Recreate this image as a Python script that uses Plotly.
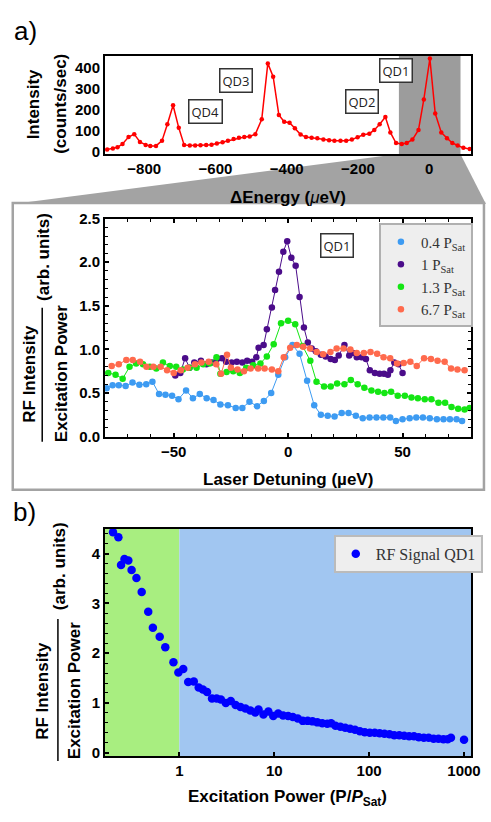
import plotly.graph_objects as go

# ---------------- data ----------------
# panel a (top): PL spectrum
top_x = [-904, -888, -875, -861, -844, -828, -812, -796, -783, -767, -750, -735, -719, -703, -688,
         -672, -657, -642, -626, -611, -596, -580, -565, -549, -534, -519, -504, -488, -470, -453,
         -438, -422, -407, -392, -377, -361, -346, -330, -314, -297, -281, -266, -249, -233, -217,
         -201, -185, -168, -154, -139, -123, -109, -93, -77, -63, -47, -30, -15, 2, 17, 34, 50, 65,
         80, 96, 114]
top_y = [11, 16, 22, 37, 70, 84, 47, 33, 28, 28, 53, 131, 221, 114, 33,
         30, 30, 31, 33, 34, 40, 45, 53, 61, 67, 70, 73, 84, 155, 420,
         357, 175, 143, 138, 112, 82, 70, 67, 64, 59, 55, 53, 53, 53, 58,
         69, 81, 86, 104, 131, 165, 92, 42, 37, 42, 58, 104, 249, 443, 182, 92, 65, 42,
         30, 19, 14]
qd_labels = ["QD4", "QD3", "QD2", "QD1"]
qd_x = [-628, -543, -189, -92]
qd_y = [191, 337, 237, 388]
shade_range = [-85, 88]

# panel a (zoom): RF spectra
p04_x = [-79.3, -76.7, -74, -71, -68, -65, -62, -59.3, -56.4, -53.6, -50.7, -47.9, -44.6, -41.6,
         -38.6, -35.6, -32.6, -29.6, -26.3, -22.9, -20, -16.9, -13.6, -10.6, -7.4, -4.3, -1.3, 1.9,
         5, 8.3, 11.4, 14.3, 17.3, 20.3, 23.4, 26.4, 29.6, 32.6, 35.6, 38.6, 41.6, 44.6, 47.1, 50,
         53.1, 56, 58.9, 61.9, 65, 67.9, 70.7, 73.6, 76]
p04_y = [0.556, 0.59, 0.59, 0.58, 0.62, 0.594, 0.6, 0.63, 0.49, 0.48, 0.47, 0.43, 0.53, 0.44,
         0.49, 0.44, 0.42, 0.37, 0.36, 0.33, 0.33, 0.40, 0.35, 0.41, 0.50, 0.71, 0.91, 1.05,
         0.95, 0.64, 0.36, 0.25, 0.24, 0.23, 0.27, 0.27, 0.24, 0.21, 0.22, 0.22, 0.22, 0.22, 0.18, 0.20,
         0.21, 0.22, 0.22, 0.21, 0.20, 0.20, 0.20, 0.20, 0.18]

p1_x = [-49.3, -47.1, -45, -43.1, -41, -38.1, -35.7, -33.3, -31.1, -28.9, -27.1, -24.7, -22.4, -20,
        -17.9, -15.7, -13.9, -12.9, -10.7, -9.3, -7.1, -5.7, -4, -2.1, -0.4, 1.4, 3.3, 5, 6.9, 8.6,
        10.3, 12.1, 14.3, 16.4, 18.6, 20.4, 22.1, 24.6, 26.7, 28.3, 30, 32.1, 34, 35.7, 37.9, 40,
        41.9, 43.6, 44.7, 46.4, 48.3, 50]
p1_y = [0.70, 0.73, 0.90, 0.79, 0.85, 0.87, 0.83, 0.85, 0.89, 0.90, 0.86, 0.85, 0.86, 0.85,
        0.87, 0.86, 0.91, 1.02, 1.05, 1.23, 1.48, 1.68, 1.89, 2.12, 2.24, 2.05, 1.96, 1.60, 1.25, 1.08,
        1.01, 0.98, 0.94, 0.92, 0.89, 0.88, 0.93, 1.05, 0.93, 0.96, 0.91, 0.91, 0.89, 0.76, 0.73, 0.72,
        0.72, 0.71, 0.76, 0.85, 0.83, 0.73]

p13_x = [-78.6, -75.4, -72.3, -69.3, -66.4, -63.4, -60.4, -57.6, -54.7, -51.7, -48.9, -46, -43.1,
         -40, -37.1, -34.3, -31.3, -29.6, -26.9, -24, -21.1, -18.3, -15.3, -12.1, -9.3, -6.3, -3.1,
         0, 3.1, 6.3, 9.7, 12.4, 15.7, 18.6, 21.4, 24.6, 27.4, 30.4, 33.3, 36.4, 39.3, 42.1, 45,
         47.9, 51, 53.9, 56.7, 59.7, 62.6, 65.7, 68.6, 71.4, 74.3, 77.1, 79.3]
p13_y = [0.73, 0.71, 0.665, 0.80, 0.84, 0.83, 0.80, 0.78, 0.85, 0.81, 0.80, 0.77, 0.79,
         0.79, 0.83, 0.84, 0.91, 0.72, 0.74, 0.75, 0.73, 0.79, 0.82, 0.84, 0.92, 1.06, 1.30,
         1.33, 1.29, 1.04, 0.87, 0.63, 0.575, 0.575, 0.61, 0.60, 0.65, 0.60, 0.56, 0.53, 0.515, 0.50, 0.515,
         0.47, 0.47, 0.45, 0.44, 0.43, 0.43, 0.39, 0.39, 0.34, 0.32, 0.31, 0.33]

p67_x = [-77.1, -74, -70.7, -67.9, -64.7, -61.9, -58.9, -55.7, -52.9, -50, -46.9, -43.9, -40.7,
         -37.9, -34.7, -31.4, -29.3, -26.7, -25, -22.1, -19.3, -16.4, -13.1, -10.3, -7.1, -4.3, -1.9,
         0.9, 3.8, 6.6, 9.6, 12.5, 15.3, 18.5, 21.2, 24.2, 27.2, 30, 33.1, 36, 38.9, 41.7, 44.6, 47.6,
         50.5, 53.4, 56.2, 59.4, 62.4, 65.3, 68.4, 71.2, 74, 77.1]
p67_y = [0.81, 0.83, 0.88, 0.88, 0.86, 0.80, 0.80, 0.80, 0.76, 0.73, 0.76, 0.79, 0.83,
         0.85, 0.86, 0.83, 0.72, 0.94, 0.79, 0.77, 0.75, 0.78, 0.78, 0.78, 0.77, 0.75, 0.91,
         1.02, 1.05, 1.03, 1.01, 0.97, 0.945, 0.97, 1.01, 1.01, 1.0, 0.96, 0.96, 0.97, 0.95, 0.91, 0.90, 0.84,
         0.845, 0.86, 0.81, 0.90, 0.89, 0.87, 0.86, 0.78, 0.77, 0.76]

series_names = ["0.4 P<sub>Sat</sub>", "1 P<sub>Sat</sub>", "1.3 P<sub>Sat</sub>", "6.7 P<sub>Sat</sub>"]
series_colors = ["#3d9bf2", "#4b0c8a", "#14e614", "#ff6a4d"]

# panel b: RF signal vs power
b_x = [0.2, 0.228, 0.243, 0.264, 0.29, 0.314, 0.353, 0.401, 0.47, 0.526, 0.621, 0.711, 0.867, 0.977,
       1.1, 1.24, 1.42, 1.6, 1.77, 1.96, 2.21, 2.47, 2.74, 3.09, 3.48, 3.92, 4.41, 4.97, 5.6, 6.31,
       6.83, 7.7, 8.67, 9.77, 11, 12.4, 14, 15.7, 17.7, 20, 22.5, 25.3, 28.5, 32.1, 36.2, 39.8, 44.2,
       49.8, 56, 63, 71, 80, 90, 101.6, 114.5, 129, 145, 164, 184, 208, 234, 264, 297, 334, 377,
       424, 478, 538, 607, 672, 728, 1000]
b_y = [4.43, 4.33, 3.77, 3.89, 3.86, 3.67, 3.51, 3.23, 2.83, 2.51, 2.33, 2.12, 1.82, 1.61,
       1.68, 1.42, 1.43, 1.31, 1.27, 1.22, 1.09, 1.09, 1.07, 1.0, 1.04, 0.96, 0.92, 0.89, 0.85, 0.81,
       0.87, 0.77, 0.83, 0.74, 0.79, 0.75, 0.74, 0.72, 0.69, 0.64, 0.64, 0.63, 0.61, 0.59, 0.58, 0.59, 0.54,
       0.52, 0.50, 0.48, 0.46, 0.43, 0.41, 0.40, 0.40, 0.39, 0.38, 0.37, 0.35, 0.35, 0.34, 0.33, 0.33, 0.31, 0.30,
       0.30, 0.28, 0.28, 0.27, 0.27, 0.30, 0.26]
b_regions = [0.1, 1.0, 3000]

# ---------------- layout helpers ----------------
W, H = 491, 822
def px(xp):
    return xp / W
def py(yp):
    return 1 - yp / H

SANS = "Liberation Sans"
SERIF = "Liberation Serif"
tickfont = dict(family=SANS, size=15, color="black", weight="bold")

fig = go.Figure()

fig.add_trace(go.Scatter(x=top_x, y=top_y, mode="lines+markers", xaxis="x", yaxis="y",
                         line=dict(color="#ff0000", width=1.5),
                         marker=dict(color="#ff0000", size=4.5), showlegend=False))

for xs, ys, nm, col in zip([p04_x, p1_x, p13_x, p67_x], [p04_y, p1_y, p13_y, p67_y],
                           series_names, series_colors):
    fig.add_trace(go.Scatter(x=xs, y=ys, mode="lines", xaxis="x2", yaxis="y2",
                             line=dict(color=col, width=1), showlegend=False, hoverinfo="skip"))
    fig.add_trace(go.Scatter(x=xs, y=ys, mode="markers", xaxis="x2", yaxis="y2", name=nm,
                             marker=dict(color=col, size=6.5), legend="legend"))

fig.add_trace(go.Scatter(x=b_x, y=b_y, mode="markers", xaxis="x3", yaxis="y3", name="RF Signal QD1",
                         marker=dict(color="#0000ff", size=8.5), legend="legend2"))

xdom = [px(107), px(480)]
frame = dict(showline=True, linecolor="black", linewidth=2, mirror=True, showgrid=False,
             zeroline=False, tickfont=tickfont)

fig.update_layout(
    width=W, height=H, margin=dict(l=0, r=0, t=0, b=0),
    paper_bgcolor="white", plot_bgcolor="white",
    xaxis=dict(domain=xdom, anchor="y", range=[-910, 118], tickvals=[-800, -600, -400, -200, 0],
               ticks="", **frame),
    yaxis=dict(domain=[py(148), py(48)], anchor="x", range=[-10, 455],
               tickvals=[0, 100, 200, 300, 400], ticks="", **frame),
    xaxis2=dict(domain=xdom, anchor="y2", range=[-80, 80], tickvals=[-50, 0, 50],
                ticks="inside", ticklen=4, tickwidth=1.5, tickcolor="black",
                minor=dict(dtick=10, ticks="inside", ticklen=3, tickwidth=1.2, tickcolor="black"),
                **{**frame, "mirror": "ticks"}),
    yaxis2=dict(domain=[py(436.7), py(214)], anchor="x2", range=[0, 2.5], dtick=0.5, tickformat=".1f",
                ticks="inside", ticklen=4, tickwidth=1.5, tickcolor="black",
                minor=dict(dtick=0.1, ticks="inside", ticklen=3, tickwidth=1.2, tickcolor="black"),
                **{**frame, "mirror": "ticks"}),
    xaxis3=dict(domain=xdom, anchor="y3", type="log", range=[-0.783, 3.0756],
                tickvals=[1, 10, 100, 1000], ticktext=["1", "10", "100", "1000"],
                ticks="inside", ticklen=4, tickwidth=1.5, tickcolor="black", **frame),
    yaxis3=dict(domain=[py(763), py(530.7)], anchor="x3", range=[-0.07, 4.5], dtick=1,
                ticks="inside", ticklen=4, tickwidth=1.5, tickcolor="black",
                minor=dict(dtick=0.2, ticks="inside", ticklen=3, tickwidth=1.2, tickcolor="black"),
                **frame),
    legend=dict(x=px(386), y=py(219), xanchor="left", yanchor="top", bgcolor="#eeeeee",
                bordercolor="#b0b0b0", borderwidth=2, font=dict(family=SERIF, size=15, color="#333333"),
                itemwidth=30, tracegroupgap=0),
    legend2=dict(x=px(340), y=py(537), xanchor="left", yanchor="top", bgcolor="#eeeeee",
                 bordercolor="#bbbbbb", borderwidth=2, font=dict(family=SERIF, size=16, color="#333333"),
                 itemwidth=30),
)

shapes = []
shapes.append(dict(type="rect", xref="x", yref="y domain", x0=shade_range[0], x1=shade_range[1],
                   y0=0, y1=1, fillcolor="#9c9c9c", line=dict(width=0), layer="below"))
shapes.append(dict(type="path", xref="paper", yref="paper",
                   path=f"M {px(406)} {py(148)} L {px(469)} {py(148)} L {px(495)} {py(199)} L {px(13)} {py(199)} Z",
                   fillcolor="#a3a3a3", line=dict(width=0), layer="below"))
shapes.append(dict(type="rect", xref="paper", yref="paper", x0=px(13), x1=px(493), y0=py(491), y1=py(198),
                   line=dict(color="#a3a3a3", width=2.5), fillcolor="rgba(0,0,0,0)", layer="below"))
shapes.append(dict(type="rect", xref="x3", yref="y3 domain", x0=b_regions[0], x1=b_regions[1], y0=0, y1=1,
                   fillcolor="#a8ee80", line=dict(width=0), layer="below"))
shapes.append(dict(type="rect", xref="x3", yref="y3 domain", x0=b_regions[1], x1=b_regions[2], y0=0, y1=1,
                   fillcolor="#a1c6f1", line=dict(width=0), layer="below"))
shapes.append(dict(type="line", xref="paper", yref="paper", x0=px(43), x1=px(43), y0=py(442), y1=py(305),
                   line=dict(color="black", width=1.5)))
shapes.append(dict(type="line", xref="paper", yref="paper", x0=px(59), x1=px(59), y0=py(768), y1=py(623),
                   line=dict(color="black", width=1.5)))
fig.update_layout(shapes=shapes)

ann = []
for t, xx, yy in zip(qd_labels, qd_x, qd_y):
    ann.append(dict(text=t, x=xx, y=yy, xref="x", yref="y", showarrow=False,
                    font=dict(family="Open Sans", size=13, color="#222222"),
                    bgcolor="white", bordercolor="#333333", borderwidth=1.5, borderpad=2))
ann.append(dict(text="QD1", x=21.3, y=2.19, xref="x2", yref="y2", showarrow=False,
                font=dict(family="Open Sans", size=13, color="#222222"),
                bgcolor="white", bordercolor="#333333", borderwidth=1.5, borderpad=2))

def pa(text, x, y, size=17, angle=0, family=SANS, color="black"):
    ann.append(dict(text=text, x=px(x), y=py(y), xref="paper", yref="paper", showarrow=False,
                    xanchor="center", yanchor="middle", textangle=angle,
                    font=dict(family=family, size=size, color=color)))

pa("a)", 26, 22, size=26)
pa("b)", 25, 514, size=26)
pa("<b>Intensity</b>", 35, 97, angle=-90)
pa("<b>(counts/sec)</b>", 62, 97, angle=-90)
pa("<b>ΔEnergy (</b><i>μ</i><b>eV)</b>", 293, 192)
pa("<b>Laser Detuning (µeV)</b>", 293, 480)
pa("<b>RF Intensity</b>", 30, 372, angle=-90)
pa("<b>Excitation Power</b>", 62, 372, angle=-90)
pa("<b>(arb. units)</b>", 45, 253, angle=-90)
pa("<b>RF Intensity</b>", 43, 696, angle=-90)
pa("<b>Excitation Power</b>", 76, 696, angle=-90)
pa("<b>(arb. units)</b>", 60, 569, angle=-90)
pa("<b>Excitation Power (P/</b><b><i>P</i></b><sub><b>Sat</b></sub><b>)</b>", 293, 806)
fig.update_layout(annotations=ann)

fig.write_html("out.html", config={"displayModeBar": False},
               post_script="document.body.style.margin='0';document.body.style.overflow='hidden';")
